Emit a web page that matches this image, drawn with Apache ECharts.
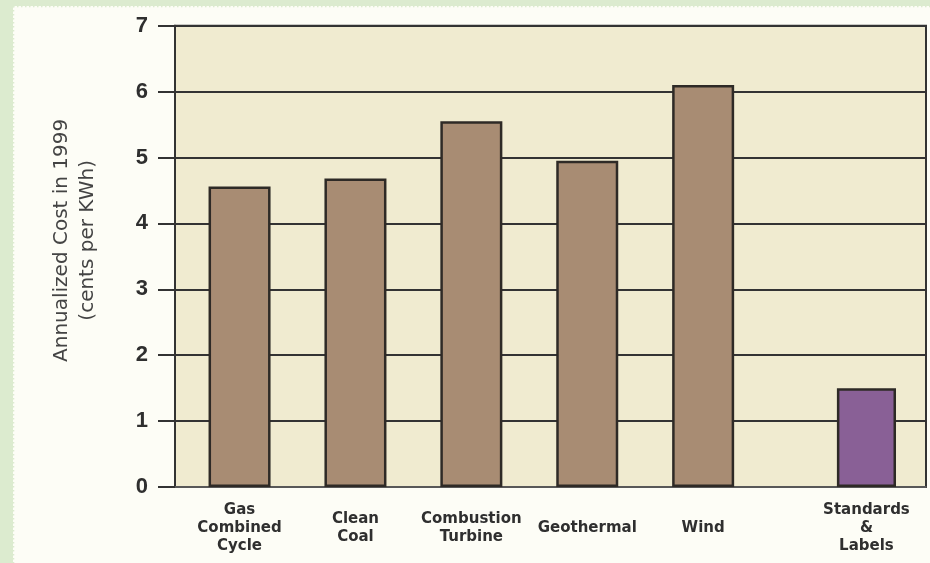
<!DOCTYPE html>
<html>
<head>
<meta charset="utf-8">
<script src="https://cdn.jsdelivr.net/npm/echarts@6/dist/echarts.min.js"></script>
<style>
  html, body { margin: 0; padding: 0; background: #dcebcf; }
  #chart { width: 930px; height: 563px; }
</style>
</head>
<body>
<div id="chart"></div>
<script>
// Technology groups: the first five are supply options, the last is efficiency standards
const supplyCategories = ['Gas\nCombined\nCycle', 'Clean\nCoal', 'Combustion\nTurbine', 'Geothermal', 'Wind'];
const supplyCosts = [4.56, 4.68, 5.55, 4.95, 6.1];
const efficiencyCategories = ['Standards\n&\nLabels'];
const efficiencyCosts = [1.5];
const yMin = 0;
const yMax = 7;
const yStep = 1;

const supplyColor = '#a88c73';
const efficiencyColor = '#896096';
const edgeColor = '#2e2a26';
const textColor = '#2f2f2f';

const chart = echarts.init(document.getElementById('chart'), null, { renderer: 'canvas' });

const hiddenY = (gridIndex) => ({
  type: 'value', gridIndex, min: yMin, max: yMax, interval: yStep, show: false
});

const xLabelStyle = {
  color: textColor,
  fontFamily: 'DejaVu Sans',
  fontWeight: 'bold',
  fontSize: 15,
  lineHeight: 18,
  verticalAlign: 'middle',
  margin: 41,
  interval: 0
};

const barStyle = (color) => ({
  color: color,
  borderColor: edgeColor,
  borderWidth: 2.5
});

chart.setOption({
  backgroundColor: '#dcebcf',
  animation: false,
  graphic: [
    { type: 'rect', left: 13, top: 6, shape: { width: 917, height: 557 }, style: { fill: '#fdfdf6' }, z: -10 },
    { type: 'line', shape: { x1: 13.5, y1: 6, x2: 13.5, y2: 563 }, style: { stroke: '#dcebcf', lineWidth: 1.5, lineDash: [1.5, 2.5] }, z: -9 },
    { type: 'line', shape: { x1: 13, y1: 6.5, x2: 930, y2: 6.5 }, style: { stroke: '#dcebcf', lineWidth: 1.5, lineDash: [1.5, 2.5] }, z: -9 }
  ],
  grid: [
    // plot frame with the value axis and gridlines
    { left: 175, right: 4, top: 25.7, bottom: 76, show: true, backgroundColor: '#f0ebd0', borderColor: '#333', borderWidth: 2 },
    // supply technologies
    { left: 181.6, right: 168.9, top: 25.7, bottom: 76 },
    // efficiency standards
    { left: 808.5, right: 5.6, top: 25.7, bottom: 76 }
  ],
  xAxis: [
    {
      type: 'value', gridIndex: 0, min: 0, max: 1,
      axisLine: { show: true, lineStyle: { color: '#666', width: 1.5 } },
      axisTick: { show: false }, axisLabel: { show: false }, splitLine: { show: false }
    },
    {
      type: 'category', gridIndex: 1, data: supplyCategories,
      axisLine: { show: false }, axisTick: { show: false },
      axisLabel: xLabelStyle
    },
    {
      type: 'category', gridIndex: 2, data: efficiencyCategories,
      axisLine: { show: false }, axisTick: { show: false },
      axisLabel: xLabelStyle
    }
  ],
  yAxis: [
    {
      type: 'value', gridIndex: 0, min: yMin, max: yMax, interval: yStep,
      name: 'Annualized Cost in 1999\n(cents per KWh)',
      nameLocation: 'middle',
      nameRotate: 90,
      nameGap: 74,
      nameTextStyle: {
        color: '#444', fontFamily: 'DejaVu Sans', fontSize: 20, lineHeight: 26,
        padding: [0, 0, 0, 32]
      },
      axisLine: { show: true, lineStyle: { color: '#333', width: 2 } },
      axisTick: { show: true, inside: false, length: 17, lineStyle: { color: '#333', width: 2 } },
      axisLabel: {
        color: textColor, fontFamily: 'Liberation Sans', fontWeight: 'bold', fontSize: 22, margin: 27
      },
      splitLine: { show: true, lineStyle: { color: '#333', width: 2 } }
    },
    hiddenY(1),
    hiddenY(2)
  ],
  series: [
    {
      type: 'bar', xAxisIndex: 1, yAxisIndex: 1,
      data: supplyCosts, barWidth: '53.5%',
      itemStyle: barStyle(supplyColor), z: 5
    },
    {
      type: 'bar', xAxisIndex: 2, yAxisIndex: 2,
      data: efficiencyCosts, barWidth: '51%',
      itemStyle: barStyle(efficiencyColor), z: 5
    }
  ]
});
</script>
</body>
</html>
